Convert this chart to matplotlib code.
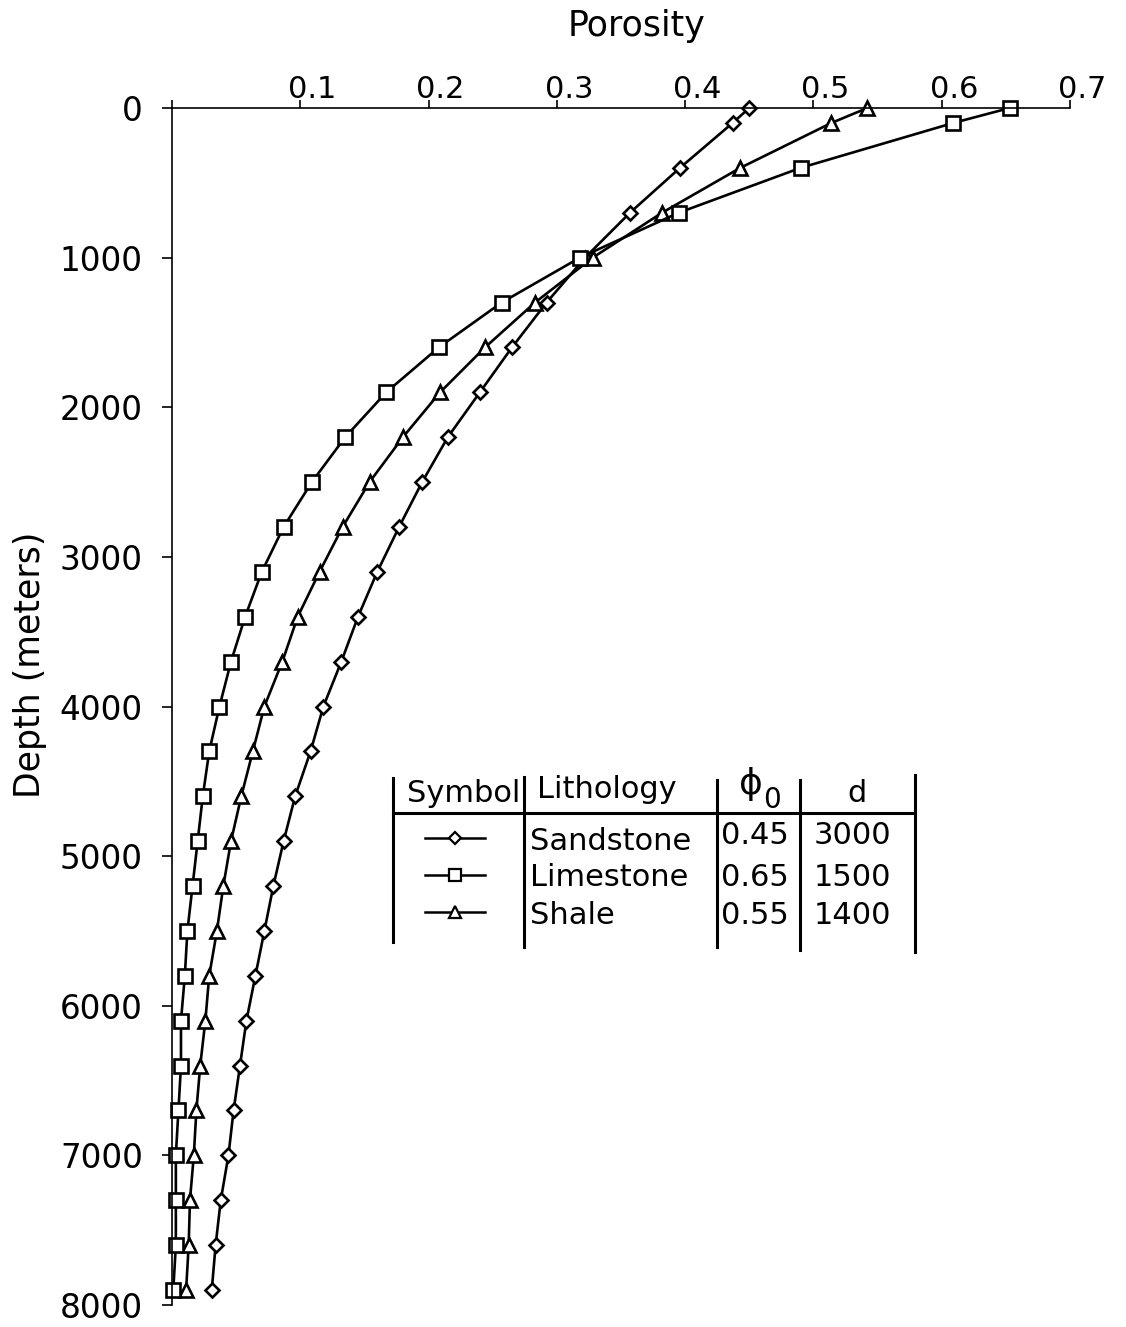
import matplotlib
matplotlib.use('Agg')
import matplotlib.pyplot as plt
from matplotlib.lines import Line2D
from matplotlib.transforms import ScaledTranslation

# depth of every plotted point (m)
depth = [0, 100, 400, 700, 1000, 1300, 1600, 1900, 2200, 2500, 2800, 3100, 3400, 3700,
         4000, 4300, 4600, 4900, 5200, 5500, 5800, 6100, 6400, 6700, 7000, 7300, 7600, 7900]

# porosity
sandstone = [0.450, 0.437, 0.396, 0.357, 0.322, 0.292, 0.265, 0.240, 0.215, 0.195, 0.177, 0.160,
             0.145, 0.132, 0.118, 0.108, 0.096, 0.087, 0.079, 0.072, 0.065, 0.058, 0.053, 0.048,
             0.044, 0.038, 0.034, 0.031]
limestone = [0.653, 0.609, 0.490, 0.395, 0.318, 0.257, 0.208, 0.167, 0.135, 0.109, 0.087, 0.070,
             0.057, 0.046, 0.037, 0.029, 0.024, 0.020, 0.016, 0.012, 0.010, 0.007, 0.007, 0.005,
             0.003, 0.003, 0.003, 0.001]
shale = [0.542, 0.514, 0.443, 0.382, 0.328, 0.283, 0.244, 0.209, 0.180, 0.154, 0.133, 0.115,
         0.098, 0.086, 0.072, 0.063, 0.054, 0.046, 0.040, 0.035, 0.029, 0.026, 0.022, 0.019,
         0.017, 0.014, 0.013, 0.011]

# legend table contents
lithology = ['Sandstone', 'Limestone', 'Shale']
phi0 = ['0.45', '0.65', '0.55']
d_vals = ['3000', '1500', '1400']
markers = ['D', 's', '^']

x_ticks = [0, 0.1, 0.2, 0.3, 0.4, 0.5, 0.6, 0.7]
x_labels = ['', '0.1', '0.2', '0.3', '0.4', '0.5', '0.6', '0.7']
y_ticks = [0, 1000, 2000, 3000, 4000, 5000, 6000, 7000, 8000]

W, H = 1126, 1327
plt.rcParams['font.family'] = ['DejaVu Sans']
fig = plt.figure(figsize=(W / 100, H / 100), dpi=100)
ax = fig.add_axes([172 / W, 1 - 1305 / H, 898 / W, 1197 / H])

def px(x, y):
    # pixel position -> figure fraction
    return x / W, 1 - y / H

# curves
style = dict(color='black', lw=1.9, mfc='white', mec='black', mew=1.9, clip_on=False)
ax.plot(sandstone, depth, marker='D', ms=7.5, **style)
ax.plot(shale, depth, marker='^', ms=10, **style)
ax.plot(limestone, depth, marker='s', ms=10, **style)

ax.set_xlim(0, 0.7)
ax.set_ylim(8000, 0)
ax.xaxis.tick_top()
ax.set_xticks(x_ticks)
ax.set_xticklabels(x_labels)
ax.set_yticks(y_ticks)
ax.set_yticklabels([str(v) for v in y_ticks])

for s in ['right', 'bottom']:
    ax.spines[s].set_visible(False)
for s in ['top', 'left']:
    ax.spines[s].set_linewidth(1.2)

ax.tick_params(axis='x', direction='out', length=6, width=1.2, pad=-3, labelsize=22)
ax.tick_params(axis='y', direction='out', length=7, width=1.2, pad=14, labelsize=23.5)

for lab in ax.get_xticklabels():
    lab.set_transform(lab.get_transform() + ScaledTranslation(0.12, 0, fig.dpi_scale_trans))

fig.text(*px(637, 26), 'Porosity', ha='center', va='center', fontsize=25)
fig.text(*px(30, 665), 'Depth (meters)', ha='center', va='center', rotation=90, fontsize=25)

# legend table drawn by hand
def seg(x0, y0, x1, y1, lw=2.2):
    a, b = px(x0, y0)
    c, d = px(x1, y1)
    fig.add_artist(Line2D([a, c], [b, d], transform=fig.transFigure, color='black', lw=lw))

seg(393, 778, 393, 942)
seg(524, 777, 524, 947)
seg(717, 780, 717, 947)
seg(800, 780, 800, 950)
seg(915, 775, 915, 952)
seg(393, 813, 915, 813)

fs = 22
fig.text(*px(407, 793), 'Symbol', ha='left', va='center', fontsize=fs)
fig.text(*px(537, 790), 'Lithology', ha='left', va='center', fontsize=fs)
fig.text(*px(751, 784), 'ϕ', ha='center', va='center', fontsize=26)
fig.text(*px(772, 800), '0', ha='center', va='center', fontsize=20)
fig.text(*px(857, 793), 'd', ha='center', va='center', fontsize=fs)

sym_y = [838, 875, 912]
name_y = [842, 877, 915]
val_y = [836, 878, 915]
msz = [6.5, 8.5, 8.5]
for i in range(3):
    a, b = px(425, sym_y[i])
    c, _ = px(485, sym_y[i])
    m, _ = px(455, sym_y[i])
    fig.add_artist(Line2D([a, c], [b, b], transform=fig.transFigure, color='black', lw=1.8))
    fig.add_artist(Line2D([m], [b], transform=fig.transFigure, marker=markers[i], ms=msz[i],
                          mfc='white', mec='black', mew=1.6, ls='none'))
    fig.text(*px(530, name_y[i]), lithology[i], ha='left', va='center', fontsize=fs)
    fig.text(*px(721, val_y[i]), phi0[i], ha='left', va='center', fontsize=fs)
    fig.text(*px(814, val_y[i]), d_vals[i], ha='left', va='center', fontsize=fs)

fig.savefig('out.png', dpi=100)
